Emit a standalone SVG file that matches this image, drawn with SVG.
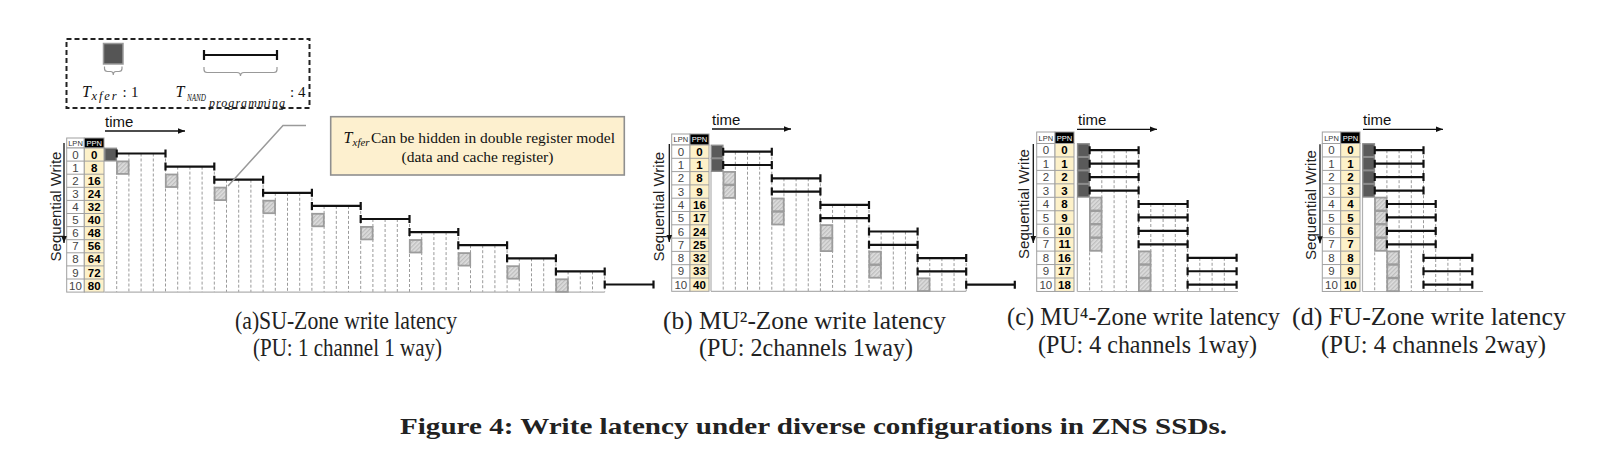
<svg xmlns="http://www.w3.org/2000/svg" width="1619" height="458" viewBox="0 0 1619 458">
<defs>
<pattern id="hatch" width="3" height="3" patternUnits="userSpaceOnUse" patternTransform="rotate(45)"><rect width="3" height="3" fill="#dedede"/><line x1="0.75" y1="0" x2="0.75" y2="3" stroke="#b4b4b4" stroke-width="1"/></pattern>
<marker id="ah" viewBox="0 0 10 10" refX="10" refY="5" markerWidth="8" markerHeight="7" orient="auto" markerUnits="userSpaceOnUse"><path d="M0,1 L10,5 L0,9 z" fill="#111"/></marker>
</defs>
<style>
.serif{font-family:"Liberation Serif","Times New Roman",serif;fill:#111}
.cap{font-family:"Liberation Serif","Times New Roman",serif;fill:#222}
.bar{stroke:#111;stroke-width:2.2;fill:none}
.grid{stroke:#9a9a9a;stroke-width:1;stroke-dasharray:3 2;fill:none}
.axis{stroke:#b0b0b0;stroke-width:1.2;fill:none}
.sqd{fill:#5a5a5a;stroke:#8c8c8c;stroke-width:1.4}
.sql{fill:url(#hatch);stroke:#9c9c9c;stroke-width:1.8}
.cell{stroke:#a0a0a0;stroke-width:1}
.lpn{font-family:"Liberation Sans",Arial,sans-serif;font-size:11.5px;fill:#444;text-anchor:middle}
.ppn{font-family:"Liberation Sans",Arial,sans-serif;font-size:11.5px;font-weight:bold;fill:#000;text-anchor:middle}
.hdr{font-family:"Liberation Sans",Arial,sans-serif;font-size:7.5px;text-anchor:middle}
.time{font-family:"Liberation Sans",Arial,sans-serif;font-size:15px;fill:#111}
.seq{font-family:"Liberation Sans",Arial,sans-serif;font-size:15px;fill:#222;text-anchor:middle}
.arrow{stroke:#111;stroke-width:1.3;fill:none;marker-end:url(#ah)}
.brace{fill:none;stroke:#999;stroke-width:1.2}
</style>
<rect width="1619" height="458" fill="#fff"/>

<g id="legend">
<rect x="66.5" y="39" width="243" height="69" fill="none" stroke="#222" stroke-width="2" stroke-dasharray="5 3"/>
<rect x="103.5" y="43.5" width="19.5" height="20.5" fill="#555" stroke="#9a9a9a" stroke-width="1.5"/>
<path class="brace" d="M104.5 66.5V68.5Q104.5 71.5 107.5 71.5H110.5Q113.3 71.5 113.3 75Q113.3 71.5 116 71.5H119Q122 71.5 122 68.5V66.5"/>
<path class="bar" d="M204 55H277M204 50V60M277 50V60"/>
<path class="brace" d="M204 67V69.5Q204 72.5 207 72.5H237Q240.5 72.5 240.5 76Q240.5 72.5 244 72.5H274Q277 72.5 277 69.5V67"/>
<text class="serif" font-style="italic" font-size="16" x="82" y="97">T</text>
<text class="serif" font-style="italic" font-size="12.5" x="91.5" y="99.5" textLength="25" lengthAdjust="spacing">xfer</text>
<text class="serif" font-size="15" x="122.5" y="97">:</text>
<text class="serif" font-size="15" x="131" y="97">1</text>
<text class="serif" font-style="italic" font-size="16" x="175.5" y="97">T</text>
<text class="serif" font-style="italic" font-size="9.5" x="187" y="101" textLength="19" lengthAdjust="spacingAndGlyphs">NAND</text>
<text class="serif" font-style="italic" font-size="12" x="209" y="107.3" textLength="76" lengthAdjust="spacing">programming</text>
<text class="serif" font-size="15" x="290" y="97">: 4</text>
</g>

<g id="callout">
<rect x="330.7" y="116.7" width="293.6" height="58.3" fill="#fdf0cf" stroke="#8f8f8f" stroke-width="1.6"/>
<text class="serif" font-style="italic" font-size="16" x="343.5" y="143.3">T</text>
<text class="serif" font-style="italic" font-size="11" x="352.5" y="146.3">xfer</text>
<text class="serif" font-size="15.5" x="371" y="143.3" textLength="244" lengthAdjust="spacingAndGlyphs">Can be hidden in double register model</text>
<text class="serif" font-size="15.5" x="477.5" y="161.7" text-anchor="middle">(data and cache register)</text>
</g>

<g id="panel-a">
<g id="table-a">
<rect x="66.7" y="138" width="17.6" height="10" fill="#fff" class="cell"/>
<rect x="84.3" y="138" width="19.7" height="10" fill="#000" class="cell"/>
<text class="hdr" x="75.5" y="146" fill="#333">LPN</text>
<text class="hdr" x="94.15" y="146" fill="#fff">PPN</text>
<rect x="66.7" y="148" width="17.6" height="144.1" fill="#fff" class="cell"/>
<rect x="84.3" y="148" width="19.7" height="144.1" fill="#fdf1c9" class="cell"/>
<path class="cell" d="M66.7 161.1H104M66.7 174.2H104M66.7 187.3H104M66.7 200.4H104M66.7 213.5H104M66.7 226.6H104M66.7 239.7H104M66.7 252.8H104M66.7 265.9H104M66.7 279H104"/>
<text class="lpn" x="75.5" y="158.6">0</text><text class="ppn" x="94.15" y="158.6">0</text>
<text class="lpn" x="75.5" y="171.7">1</text><text class="ppn" x="94.15" y="171.7">8</text>
<text class="lpn" x="75.5" y="184.8">2</text><text class="ppn" x="94.15" y="184.8">16</text>
<text class="lpn" x="75.5" y="197.9">3</text><text class="ppn" x="94.15" y="197.9">24</text>
<text class="lpn" x="75.5" y="211">4</text><text class="ppn" x="94.15" y="211">32</text>
<text class="lpn" x="75.5" y="224.1">5</text><text class="ppn" x="94.15" y="224.1">40</text>
<text class="lpn" x="75.5" y="237.2">6</text><text class="ppn" x="94.15" y="237.2">48</text>
<text class="lpn" x="75.5" y="250.3">7</text><text class="ppn" x="94.15" y="250.3">56</text>
<text class="lpn" x="75.5" y="263.4">8</text><text class="ppn" x="94.15" y="263.4">64</text>
<text class="lpn" x="75.5" y="276.5">9</text><text class="ppn" x="94.15" y="276.5">72</text>
<text class="lpn" x="75.5" y="289.6">10</text><text class="ppn" x="94.15" y="289.6">80</text>
</g>
<text class="time" x="105" y="126.5">time</text>
<text class="seq" transform="translate(60.5 206.5) rotate(-90)">Sequential Write</text>
<path class="grid" d="M116.7 161.1V292.1M128.9 153.5V292.1M141.1 153.5V292.1M153.3 153.5V292.1M165.5 153.5V292.1M177.7 166.6V292.1M189.9 166.6V292.1M202.1 166.6V292.1M214.3 166.6V292.1M226.5 179.7V292.1M238.7 179.7V292.1M250.9 179.7V292.1M263.1 179.7V292.1M275.3 192.8V292.1M287.5 192.8V292.1M299.7 192.8V292.1M311.9 192.8V292.1M324.1 205.9V292.1M336.3 205.9V292.1M348.5 205.9V292.1M360.7 205.9V292.1M372.9 219V292.1M385.1 219V292.1M397.3 219V292.1M409.5 219V292.1M421.7 232.1V292.1M433.9 232.1V292.1M446.1 232.1V292.1M458.3 232.1V292.1M470.5 245.2V292.1M482.7 245.2V292.1M494.9 245.2V292.1M507.1 245.2V292.1M519.3 258.3V292.1M531.5 258.3V292.1M543.7 258.3V292.1M555.9 258.3V292.1M568.1 271.4V292.1M580.3 271.4V292.1M592.5 271.4V292.1M604.7 271.4V292.1"/>
<path class="axis" d="M104.5 292.1H604.7"/>
<rect class="sqd" x="104.8" y="148.3" width="11.6" height="12.5"/>
<rect class="sql" x="117" y="161.4" width="11.6" height="12.5"/>
<rect class="sql" x="165.8" y="174.5" width="11.6" height="12.5"/>
<rect class="sql" x="214.6" y="187.6" width="11.6" height="12.5"/>
<rect class="sql" x="263.4" y="200.7" width="11.6" height="12.5"/>
<rect class="sql" x="312.2" y="213.8" width="11.6" height="12.5"/>
<rect class="sql" x="361" y="226.9" width="11.6" height="12.5"/>
<rect class="sql" x="409.8" y="240" width="11.6" height="12.5"/>
<rect class="sql" x="458.6" y="253.1" width="11.6" height="12.5"/>
<rect class="sql" x="507.4" y="266.2" width="11.6" height="12.5"/>
<rect class="sql" x="556.2" y="279.3" width="11.6" height="12.5"/>
<path class="bar" d="M116.7 153.5H165.5M116.7 149.5V157.5M165.5 149.5V157.5M165.5 166.6H214.3M165.5 162.6V170.6M214.3 162.6V170.6M214.3 179.7H263.1M214.3 175.7V183.7M263.1 175.7V183.7M263.1 192.8H311.9M263.1 188.8V196.8M311.9 188.8V196.8M311.9 205.9H360.7M311.9 201.9V209.9M360.7 201.9V209.9M360.7 219H409.5M360.7 215V223M409.5 215V223M409.5 232.1H458.3M409.5 228.1V236.1M458.3 228.1V236.1M458.3 245.2H507.1M458.3 241.2V249.2M507.1 241.2V249.2M507.1 258.3H555.9M507.1 254.3V262.3M555.9 254.3V262.3M555.9 271.4H604.7M555.9 267.4V275.4M604.7 267.4V275.4M604.7 284.5H653.5M604.7 280.5V288.5M653.5 280.5V288.5"/>
<text class="cap" font-size="25" x="235" y="329" textLength="222" lengthAdjust="spacingAndGlyphs">(a)SU-Zone write latency</text>
<text class="cap" font-size="25" x="253" y="356" textLength="189" lengthAdjust="spacingAndGlyphs">(PU: 1 channel 1 way)</text>
</g>

<g id="panel-b">
<g id="table-b">
<rect x="671.7" y="134" width="18.3" height="11" fill="#fff" class="cell"/>
<rect x="690" y="134" width="19" height="11" fill="#000" class="cell"/>
<text class="hdr" x="680.85" y="142.3" fill="#333">LPN</text>
<text class="hdr" x="699.5" y="142.3" fill="#fff">PPN</text>
<rect x="671.7" y="145" width="18.3" height="146.3" fill="#fff" class="cell"/>
<rect x="690" y="145" width="19" height="146.3" fill="#fdf1c9" class="cell"/>
<path class="cell" d="M671.7 158.3H709M671.7 171.6H709M671.7 184.9H709M671.7 198.2H709M671.7 211.5H709M671.7 224.8H709M671.7 238.1H709M671.7 251.4H709M671.7 264.7H709M671.7 278H709"/>
<text class="lpn" x="680.85" y="155.75">0</text><text class="ppn" x="699.5" y="155.75">0</text>
<text class="lpn" x="680.85" y="169.05">1</text><text class="ppn" x="699.5" y="169.05">1</text>
<text class="lpn" x="680.85" y="182.35">2</text><text class="ppn" x="699.5" y="182.35">8</text>
<text class="lpn" x="680.85" y="195.65">3</text><text class="ppn" x="699.5" y="195.65">9</text>
<text class="lpn" x="680.85" y="208.95">4</text><text class="ppn" x="699.5" y="208.95">16</text>
<text class="lpn" x="680.85" y="222.25">5</text><text class="ppn" x="699.5" y="222.25">17</text>
<text class="lpn" x="680.85" y="235.55">6</text><text class="ppn" x="699.5" y="235.55">24</text>
<text class="lpn" x="680.85" y="248.85">7</text><text class="ppn" x="699.5" y="248.85">25</text>
<text class="lpn" x="680.85" y="262.15">8</text><text class="ppn" x="699.5" y="262.15">32</text>
<text class="lpn" x="680.85" y="275.45">9</text><text class="ppn" x="699.5" y="275.45">33</text>
<text class="lpn" x="680.85" y="288.75">10</text><text class="ppn" x="699.5" y="288.75">40</text>
</g>
<text class="time" x="712" y="125">time</text>
<text class="seq" transform="translate(664 206.7) rotate(-90)">Sequential Write</text>
<path class="grid" d="M723.2 171.6V291.3M735.35 151.7V291.3M747.5 151.7V291.3M759.65 151.7V291.3M771.8 151.7V291.3M783.95 178.3V291.3M796.1 178.3V291.3M808.25 178.3V291.3M820.4 178.3V291.3M832.55 204.9V291.3M844.7 204.9V291.3M856.85 204.9V291.3M869 204.9V291.3M881.15 231.5V291.3M893.3 231.5V291.3M905.45 231.5V291.3M917.6 231.5V291.3M929.75 258.1V291.3M941.9 258.1V291.3M954.05 258.1V291.3M966.2 258.1V291.3"/>
<path class="axis" d="M711 171.6V291.3M711 291.3H966.2"/>
<rect class="sqd" x="711.3" y="145.3" width="11.6" height="12.7"/>
<rect class="sqd" x="711.3" y="158.6" width="11.6" height="12.7"/>
<rect class="sql" x="723.5" y="171.9" width="11.6" height="12.7"/>
<rect class="sql" x="723.5" y="185.2" width="11.6" height="12.7"/>
<rect class="sql" x="772.1" y="198.5" width="11.6" height="12.7"/>
<rect class="sql" x="772.1" y="211.8" width="11.6" height="12.7"/>
<rect class="sql" x="820.7" y="225.1" width="11.6" height="12.7"/>
<rect class="sql" x="820.7" y="238.4" width="11.6" height="12.7"/>
<rect class="sql" x="869.3" y="251.7" width="11.6" height="12.7"/>
<rect class="sql" x="869.3" y="265" width="11.6" height="12.7"/>
<rect class="sql" x="917.9" y="278.3" width="11.6" height="12.7"/>
<path class="bar" d="M723.2 151.7H771.8M723.2 147.7V155.7M771.8 147.7V155.7M723.2 165H771.8M723.2 161V169M771.8 161V169M771.8 178.3H820.4M771.8 174.3V182.3M820.4 174.3V182.3M771.8 191.6H820.4M771.8 187.6V195.6M820.4 187.6V195.6M820.4 204.9H869M820.4 200.9V208.9M869 200.9V208.9M820.4 218.2H869M820.4 214.2V222.2M869 214.2V222.2M869 231.5H917.6M869 227.5V235.5M917.6 227.5V235.5M869 244.8H917.6M869 240.8V248.8M917.6 240.8V248.8M917.6 258.1H966.2M917.6 254.1V262.1M966.2 254.1V262.1M917.6 271.4H966.2M917.6 267.4V275.4M966.2 267.4V275.4M966.2 284.7H1014.8M966.2 280.7V288.7M1014.8 280.7V288.7"/>
<text class="cap" font-size="25.5" x="663" y="329" textLength="283" lengthAdjust="spacingAndGlyphs">(b) MU²-Zone write latency</text>
<text class="cap" font-size="25.5" x="699" y="356" textLength="214" lengthAdjust="spacingAndGlyphs">(PU: 2channels 1way)</text>
</g>

<g id="panel-c">
<g id="table-c">
<rect x="1036.7" y="132" width="18.3" height="11.5" fill="#fff" class="cell"/>
<rect x="1055" y="132" width="19" height="11.5" fill="#000" class="cell"/>
<text class="hdr" x="1045.85" y="140.5" fill="#333">LPN</text>
<text class="hdr" x="1064.5" y="140.5" fill="#fff">PPN</text>
<rect x="1036.7" y="143.5" width="18.3" height="147.95" fill="#fff" class="cell"/>
<rect x="1055" y="143.5" width="19" height="147.95" fill="#fdf1c9" class="cell"/>
<path class="cell" d="M1036.7 156.95H1074M1036.7 170.4H1074M1036.7 183.85H1074M1036.7 197.3H1074M1036.7 210.75H1074M1036.7 224.2H1074M1036.7 237.65H1074M1036.7 251.1H1074M1036.7 264.55H1074M1036.7 278H1074"/>
<text class="lpn" x="1045.85" y="154.3">0</text><text class="ppn" x="1064.5" y="154.3">0</text>
<text class="lpn" x="1045.85" y="167.75">1</text><text class="ppn" x="1064.5" y="167.75">1</text>
<text class="lpn" x="1045.85" y="181.2">2</text><text class="ppn" x="1064.5" y="181.2">2</text>
<text class="lpn" x="1045.85" y="194.65">3</text><text class="ppn" x="1064.5" y="194.65">3</text>
<text class="lpn" x="1045.85" y="208.1">4</text><text class="ppn" x="1064.5" y="208.1">8</text>
<text class="lpn" x="1045.85" y="221.55">5</text><text class="ppn" x="1064.5" y="221.55">9</text>
<text class="lpn" x="1045.85" y="235">6</text><text class="ppn" x="1064.5" y="235">10</text>
<text class="lpn" x="1045.85" y="248.45">7</text><text class="ppn" x="1064.5" y="248.45">11</text>
<text class="lpn" x="1045.85" y="261.9">8</text><text class="ppn" x="1064.5" y="261.9">16</text>
<text class="lpn" x="1045.85" y="275.35">9</text><text class="ppn" x="1064.5" y="275.35">17</text>
<text class="lpn" x="1045.85" y="288.8">10</text><text class="ppn" x="1064.5" y="288.8">18</text>
</g>
<text class="time" x="1078" y="125">time</text>
<text class="seq" transform="translate(1029 204) rotate(-90)">Sequential Write</text>
<path class="grid" d="M1089.6 197.3V291.5M1101.8 150.2V291.5M1114.1 150.2V291.5M1126.3 150.2V291.5M1138.6 150.2V291.5M1150.8 204V291.5M1163.1 204V291.5M1175.3 204V291.5M1187.6 204V291.5M1199.8 257.8V291.5M1212.1 257.8V291.5M1224.3 257.8V291.5"/>
<path class="axis" d="M1077.3 197.3V291.5M1077.3 291.5H1238"/>
<rect class="sqd" x="1077.6" y="143.8" width="11.6" height="12.85"/>
<rect class="sqd" x="1077.6" y="157.25" width="11.6" height="12.85"/>
<rect class="sqd" x="1077.6" y="170.7" width="11.6" height="12.85"/>
<rect class="sqd" x="1077.6" y="184.15" width="11.6" height="12.85"/>
<rect class="sql" x="1089.9" y="197.6" width="11.6" height="12.85"/>
<rect class="sql" x="1089.9" y="211.05" width="11.6" height="12.85"/>
<rect class="sql" x="1089.9" y="224.5" width="11.6" height="12.85"/>
<rect class="sql" x="1089.9" y="237.95" width="11.6" height="12.85"/>
<rect class="sql" x="1138.9" y="251.4" width="11.6" height="12.85"/>
<rect class="sql" x="1138.9" y="264.85" width="11.6" height="12.85"/>
<rect class="sql" x="1138.9" y="278.3" width="11.6" height="12.85"/>
<path class="bar" d="M1089.6 150.2H1138.6M1089.6 146.2V154.2M1138.6 146.2V154.2M1089.6 163.65H1138.6M1089.6 159.65V167.65M1138.6 159.65V167.65M1089.6 177.1H1138.6M1089.6 173.1V181.1M1138.6 173.1V181.1M1089.6 190.55H1138.6M1089.6 186.55V194.55M1138.6 186.55V194.55M1138.6 204H1187.6M1138.6 200V208M1187.6 200V208M1138.6 217.45H1187.6M1138.6 213.45V221.45M1187.6 213.45V221.45M1138.6 230.9H1187.6M1138.6 226.9V234.9M1187.6 226.9V234.9M1138.6 244.35H1187.6M1138.6 240.35V248.35M1187.6 240.35V248.35M1187.6 257.8H1236.6M1187.6 253.8V261.8M1236.6 253.8V261.8M1187.6 271.25H1236.6M1187.6 267.25V275.25M1236.6 267.25V275.25M1187.6 284.7H1236.6M1187.6 280.7V288.7M1236.6 280.7V288.7"/>
<text class="cap" font-size="25" x="1007" y="325" textLength="273" lengthAdjust="spacingAndGlyphs">(c) MU⁴-Zone write latency</text>
<text class="cap" font-size="25" x="1038" y="353" textLength="219" lengthAdjust="spacingAndGlyphs">(PU: 4 channels 1way)</text>
</g>

<g id="panel-d">
<g id="table-d">
<rect x="1322.3" y="132" width="18.4" height="11.5" fill="#fff" class="cell"/>
<rect x="1340.7" y="132" width="19.3" height="11.5" fill="#000" class="cell"/>
<text class="hdr" x="1331.5" y="140.5" fill="#333">LPN</text>
<text class="hdr" x="1350.35" y="140.5" fill="#fff">PPN</text>
<rect x="1322.3" y="143.5" width="18.4" height="147.95" fill="#fff" class="cell"/>
<rect x="1340.7" y="143.5" width="19.3" height="147.95" fill="#fdf1c9" class="cell"/>
<path class="cell" d="M1322.3 156.95H1360M1322.3 170.4H1360M1322.3 183.85H1360M1322.3 197.3H1360M1322.3 210.75H1360M1322.3 224.2H1360M1322.3 237.65H1360M1322.3 251.1H1360M1322.3 264.55H1360M1322.3 278H1360"/>
<text class="lpn" x="1331.5" y="154.3">0</text><text class="ppn" x="1350.35" y="154.3">0</text>
<text class="lpn" x="1331.5" y="167.75">1</text><text class="ppn" x="1350.35" y="167.75">1</text>
<text class="lpn" x="1331.5" y="181.2">2</text><text class="ppn" x="1350.35" y="181.2">2</text>
<text class="lpn" x="1331.5" y="194.65">3</text><text class="ppn" x="1350.35" y="194.65">3</text>
<text class="lpn" x="1331.5" y="208.1">4</text><text class="ppn" x="1350.35" y="208.1">4</text>
<text class="lpn" x="1331.5" y="221.55">5</text><text class="ppn" x="1350.35" y="221.55">5</text>
<text class="lpn" x="1331.5" y="235">6</text><text class="ppn" x="1350.35" y="235">6</text>
<text class="lpn" x="1331.5" y="248.45">7</text><text class="ppn" x="1350.35" y="248.45">7</text>
<text class="lpn" x="1331.5" y="261.9">8</text><text class="ppn" x="1350.35" y="261.9">8</text>
<text class="lpn" x="1331.5" y="275.35">9</text><text class="ppn" x="1350.35" y="275.35">9</text>
<text class="lpn" x="1331.5" y="288.8">10</text><text class="ppn" x="1350.35" y="288.8">10</text>
</g>
<text class="time" x="1363" y="125">time</text>
<text class="seq" transform="translate(1316 205) rotate(-90)">Sequential Write</text>
<path class="grid" d="M1374.7 197.3V291.5M1386.9 150.2V291.5M1399.1 150.2V291.5M1411.3 150.2V291.5M1423.5 150.2V291.5M1435.7 204V291.5M1447.9 257.8V291.5M1460.1 257.8V291.5"/>
<path class="axis" d="M1362.5 197.3V291.5M1362.5 291.5H1483"/>
<rect class="sqd" x="1362.8" y="143.8" width="11.6" height="12.85"/>
<rect class="sqd" x="1362.8" y="157.25" width="11.6" height="12.85"/>
<rect class="sqd" x="1362.8" y="170.7" width="11.6" height="12.85"/>
<rect class="sqd" x="1362.8" y="184.15" width="11.6" height="12.85"/>
<rect class="sql" x="1375" y="197.6" width="11.6" height="12.85"/>
<rect class="sql" x="1375" y="211.05" width="11.6" height="12.85"/>
<rect class="sql" x="1375" y="224.5" width="11.6" height="12.85"/>
<rect class="sql" x="1375" y="237.95" width="11.6" height="12.85"/>
<rect class="sql" x="1387.2" y="251.4" width="11.6" height="12.85"/>
<rect class="sql" x="1387.2" y="264.85" width="11.6" height="12.85"/>
<rect class="sql" x="1387.2" y="278.3" width="11.6" height="12.85"/>
<path class="bar" d="M1374.7 150.2H1423.5M1374.7 146.2V154.2M1423.5 146.2V154.2M1374.7 163.65H1423.5M1374.7 159.65V167.65M1423.5 159.65V167.65M1374.7 177.1H1423.5M1374.7 173.1V181.1M1423.5 173.1V181.1M1374.7 190.55H1423.5M1374.7 186.55V194.55M1423.5 186.55V194.55M1386.9 204H1435.7M1386.9 200V208M1435.7 200V208M1386.9 217.45H1435.7M1386.9 213.45V221.45M1435.7 213.45V221.45M1386.9 230.9H1435.7M1386.9 226.9V234.9M1435.7 226.9V234.9M1386.9 244.35H1435.7M1386.9 240.35V248.35M1435.7 240.35V248.35M1423.5 257.8H1472.3M1423.5 253.8V261.8M1472.3 253.8V261.8M1423.5 271.25H1472.3M1423.5 267.25V275.25M1472.3 267.25V275.25M1423.5 284.7H1472.3M1423.5 280.7V288.7M1472.3 280.7V288.7"/>
<text class="cap" font-size="25" x="1292" y="325" textLength="274" lengthAdjust="spacingAndGlyphs">(d) FU-Zone write latency</text>
<text class="cap" font-size="25" x="1321" y="353" textLength="225" lengthAdjust="spacingAndGlyphs">(PU: 4 channels 2way)</text>
</g>

<g id="connectors">
<path d="M228 186L283 125.5H306" fill="none" stroke="#9a9a9a" stroke-width="1.5"/>
<path class="arrow" d="M105 131H185"/>
<path class="arrow" d="M64 143V243"/>
<path class="arrow" d="M712 129H791"/>
<path class="arrow" d="M669.3 144V242"/>
<path class="arrow" d="M1077 129.3H1157"/>
<path class="arrow" d="M1033.3 144V243"/>
<path class="arrow" d="M1363 129.3H1443"/>
<path class="arrow" d="M1320 144.3V243.3"/>
</g>

<text id="figure-caption" class="cap" font-size="23" font-weight="bold" x="400" y="434" textLength="827" lengthAdjust="spacingAndGlyphs">Figure 4: Write latency under diverse configurations in ZNS SSDs.</text>
</svg>
